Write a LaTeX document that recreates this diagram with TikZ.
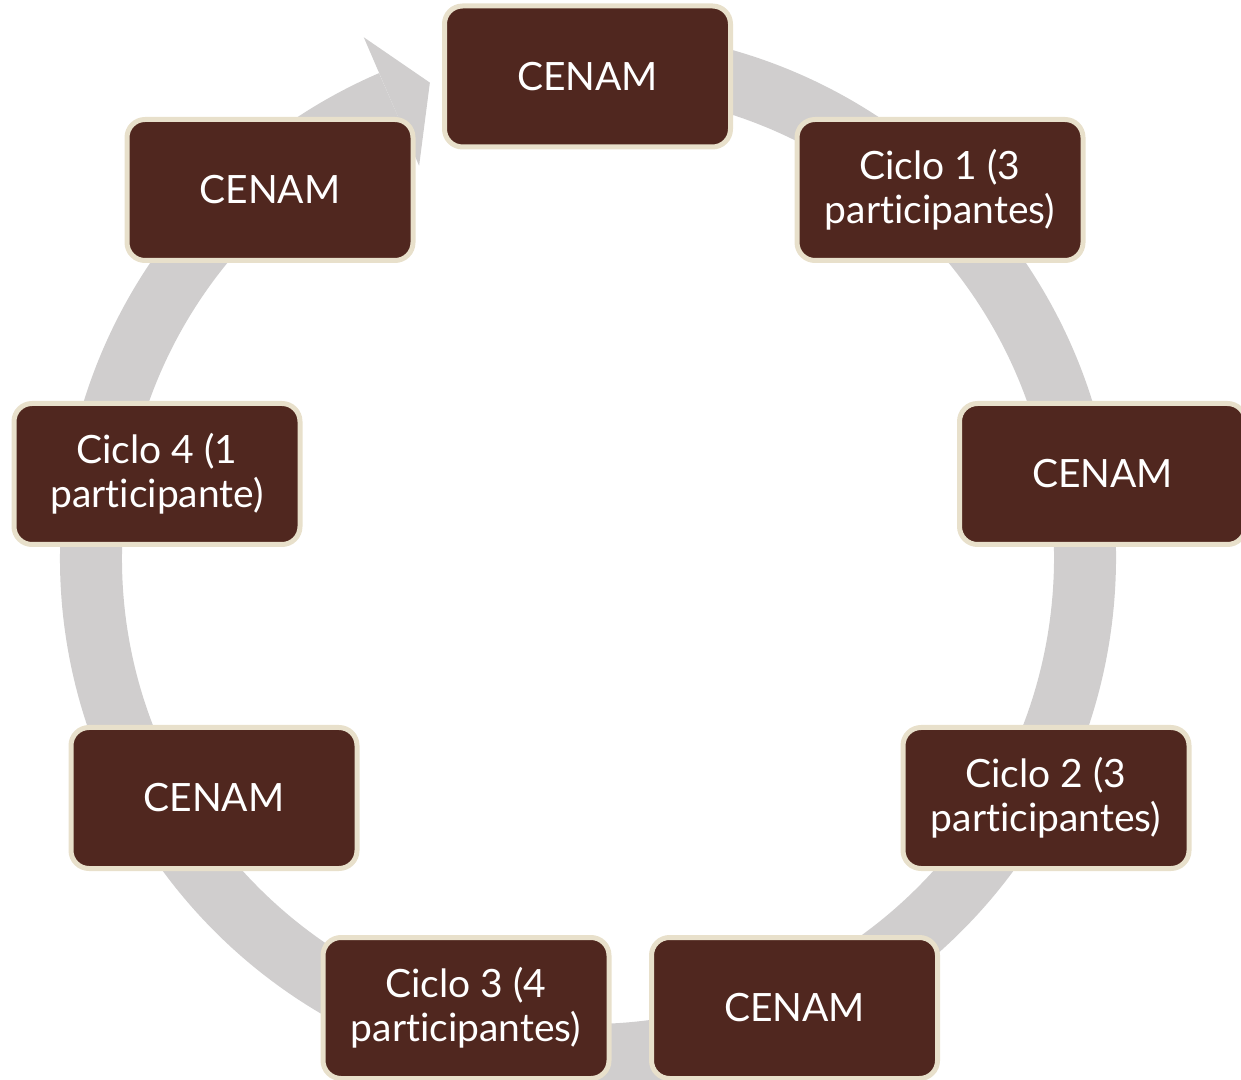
\documentclass[tikz,border=0pt]{standalone}
\usepackage{fontspec}
\setmainfont{Lato}[Ligatures={NoCommon,NoContextual,NoRequired},Contextuals=NoAlternate]
\usetikzlibrary{calc}
\definecolor{boxfill}{HTML}{50271F}
\definecolor{boxedge}{HTML}{E8E0CB}
\definecolor{ringgray}{HTML}{D0CECE}
\tikzset{
  stagebox/.style={draw=boxedge, line width=5pt, fill=boxfill, rounded corners=18pt,
    minimum width=286pt, minimum height=141pt, text=white, align=center, inner sep=0pt,
    font=\fontsize{39}{44}\selectfont},
  ringline/.style={draw=ringgray, line width=62pt, line cap=butt},
}
\begin{document}
\begin{tikzpicture}[x=1pt,y=1pt]
\useasboundingbox (0,0) rectangle (1241,1079);
\clip (0,0) rectangle (1241,1079);
% ring centre
\coordinate (c) at (588,521);
\draw[ringline] (c) ++(85:497) arc[start angle=85, end angle=-246.7, radius=497];
\fill[ringgray] ($(c)+(113.3:567)$) -- ($(c)+(108.4:501)$) -- ($(c)+(113.3:427)$) -- cycle;
% boxes
\node[stagebox] (n0) at (587.5,1002.5) {CENAM};
\node[stagebox] (n1) at (940,889) {Ciclo 1 (3\\participantes)};
\node[stagebox] (n2) at (1102.5,605) {CENAM};
\node[stagebox] (n3) at (1046,281) {Ciclo 2 (3\\participantes)};
\node[stagebox] (n4) at (794.5,71) {CENAM};
\node[stagebox] (n5) at (466,71) {Ciclo 3 (4\\participantes)};
\node[stagebox] (n6) at (214,281) {CENAM};
\node[stagebox] (n7) at (157,605) {Ciclo 4 (1\\participante)};
\node[stagebox] (n8) at (270,889) {CENAM};
\end{tikzpicture}
\end{document}
